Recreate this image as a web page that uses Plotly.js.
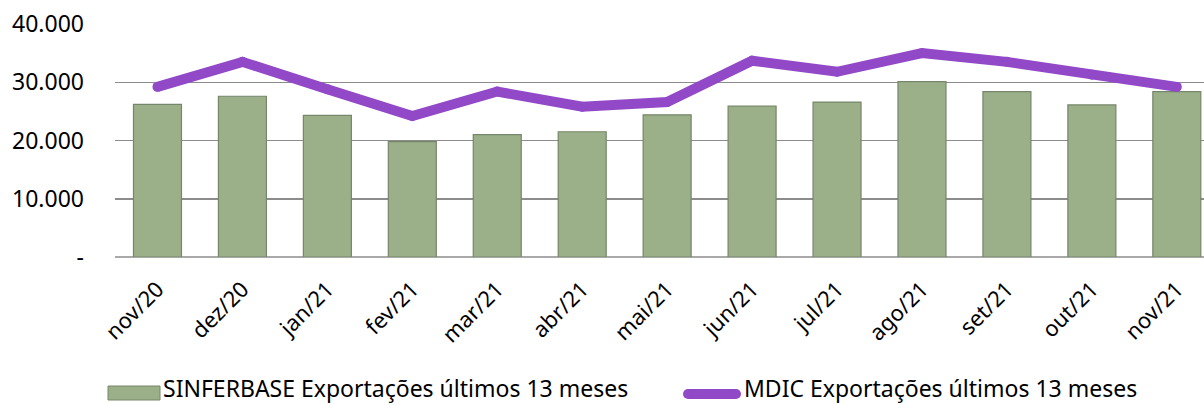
<!DOCTYPE html>
<html>
<head>
<meta charset="utf-8">
<script src="https://cdn.plot.ly/plotly-3.0.1.min.js"></script>
<style>html,body{margin:0;padding:0;background:#fff;}#chart{width:1204px;height:405px;}</style>
</head>
<body>
<div id="chart"></div>
<script>
const months = ["nov/20","dez/20","jan/21","fev/21","mar/21","abr/21","mai/21","jun/21","jul/21","ago/21","set/21","out/21","nov/21"];
const sinferbase = [26200, 27600, 24300, 19800, 21000, 21500, 24400, 25900, 26600, 30100, 28400, 26100, 28400];
const mdic = [29200, 33500, 28800, 24200, 28400, 25800, 26600, 33700, 31800, 35000, 33500, 31300, 29200];
const yTickVals = [0, 10000, 20000, 30000, 40000];
const yTickText = ["-", "10.000", "20.000", "30.000", "40.000"];
const barName = "SINFERBASE Exportações últimos 13 meses";
const lineName = "MDIC Exportações últimos 13 meses";

const FONT = "Noto Sans, Open Sans, sans-serif";
const L = 115, W = 1089, T = 24, H = 233;
const px = x => (x - L) / W;
const py = y => (T + H - y) / H;

const traces = [
  {
    type: "bar", x: months, y: sinferbase, name: barName, width: 0.565,
    marker: {color: "#9bb089", line: {color: "#76866a", width: 1.2}},
    hoverinfo: "x+y"
  },
  {
    type: "scatter", mode: "lines+markers", x: months, y: mdic, name: lineName,
    line: {color: "#9149c7", width: 10},
    marker: {color: "#9149c7", size: 10},
    hoverinfo: "x+y"
  }
];

const layout = {
  width: 1204, height: 405,
  margin: {l: L, r: 0, t: T, b: 405 - T - H, pad: 0},
  paper_bgcolor: "#ffffff", plot_bgcolor: "#ffffff",
  showlegend: false,
  font: {family: FONT, color: "#000000"},
  xaxis: {
    type: "category", range: [-0.5, 12.32],
    tickangle: -45, tickfont: {size: 22, family: FONT, color: "#000"},
    showgrid: false, zeroline: false, showline: false, ticks: "",
    ticklabelstandoff: 14,
    fixedrange: true
  },
  yaxis: {
    range: [0, 40000], tickvals: yTickVals, ticktext: yTickText,
    tickfont: {size: 23, family: FONT, color: "#000"},
    showgrid: true, gridcolor: "#8c8c8c", gridwidth: 1.5,
    zeroline: false, showline: false, ticks: "", ticklabelstandoff: 30,
    fixedrange: true
  },
  shapes: [
    {type: "line", xref: "paper", yref: "paper", x0: 0, x1: 1, y0: 0, y1: 0, line: {color: "#8c8c8c", width: 1.5}, layer: "below"},
    {type: "rect", xref: "paper", yref: "paper", x0: px(108), x1: px(160), y0: py(400), y1: py(386),
     fillcolor: "#9bb089", line: {color: "#76866a", width: 1}},
    {type: "line", xref: "paper", yref: "paper", x0: px(688), x1: px(736), y0: py(394), y1: py(394),
     line: {color: "#9149c7", width: 10}},
    {type: "circle", xref: "paper", yref: "paper", x0: px(683), x1: px(693), y0: py(399), y1: py(389),
     fillcolor: "#9149c7", line: {width: 0}},
    {type: "circle", xref: "paper", yref: "paper", x0: px(731), x1: px(741), y0: py(399), y1: py(389),
     fillcolor: "#9149c7", line: {width: 0}}
  ],
  annotations: [
    {xref: "paper", yref: "paper", x: px(161), y: py(388), xanchor: "left", yanchor: "middle",
     text: barName, showarrow: false, font: {size: 23, family: FONT, color: "#000"}},
    {xref: "paper", yref: "paper", x: px(742), y: py(388), xanchor: "left", yanchor: "middle",
     text: lineName, showarrow: false, font: {size: 23, family: FONT, color: "#000"}}
  ]
};

Plotly.newPlot("chart", traces, layout, {displayModeBar: false, staticPlot: true});
</script>
</body>
</html>
